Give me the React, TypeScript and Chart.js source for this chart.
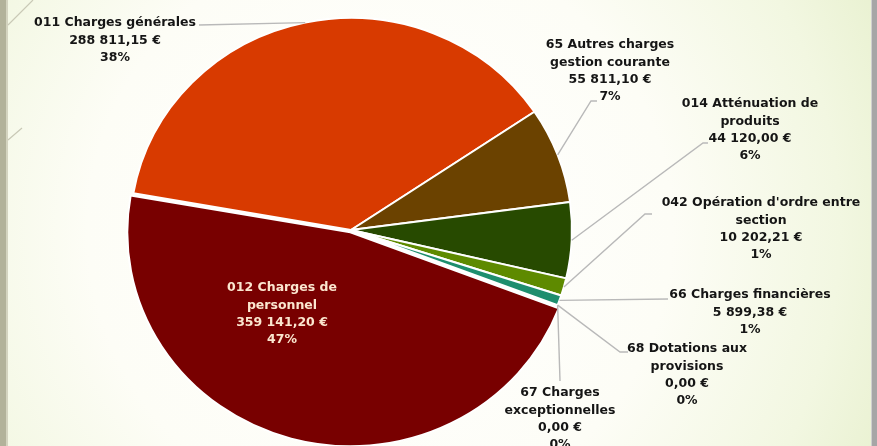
import React, { useEffect, useRef } from 'react';
import { Chart, registerables } from 'chart.js';

Chart.register(...registerables);

// ---- data ----
const categoryLines: string[][] = [
  ['011 Charges générales'],
  ['65 Autres charges', 'gestion courante'],
  ['014 Atténuation de', 'produits'],
  ["042 Opération d'ordre entre", 'section'],
  ['66 Charges financières'],
  ['68 Dotations aux', 'provisions'],
  ['67 Charges', 'exceptionnelles'],
  ['012 Charges de', 'personnel'],
];
const categories = categoryLines.map((l) => l.join(' '));
const amounts = [288811.15, 55811.1, 44120.0, 10202.21, 5899.38, 0, 0, 359141.2];
const sliceColors = ['#D83A00', '#6B4200', '#274A00', '#5E8A00', '#1E8E6E', '#8A8A8A', '#6A6A6A', '#780000'];
const explode = [0, 0, 0, 0, 0, 0, 0, 10];

// ---- layout (label placement, not data) ----
const CX = 351;
const CY = 230;
const RX = 221;
const SY = 212 / 221;
const LINE_H = 17.3;
const labelLayout: { x: number; y: number; path: number[][] | null; color: string }[] = [
  { x: 115, y: 23, path: [[199, 25]], color: '#151515' },
  { x: 610, y: 45, path: [[597, 101], [591, 101]], color: '#151515' },
  { x: 750, y: 104, path: [[708, 143], [703, 143]], color: '#151515' },
  { x: 761, y: 203, path: [[652, 214], [645, 214]], color: '#151515' },
  { x: 750, y: 295, path: [[668, 299]], color: '#151515' },
  { x: 687, y: 349, path: [[628, 352], [620, 352]], color: '#151515' },
  { x: 560, y: 393, path: [[560, 381]], color: '#151515' },
  { x: 282, y: 288, path: null, color: '#FBE6CF' },
];

function formatEuro(v: number): string {
  const [intPart, dec] = v.toFixed(2).split('.');
  const grouped = intPart.replace(/\B(?=(\d{3})+(?!\d))/g, ' ');
  return `${grouped},${dec} €`;
}

const total = amounts.reduce((a, b) => a + b, 0);
const percentLabels = amounts.map((v) => `${Math.round((v / total) * 100)}%`);
const amountLabels = amounts.map(formatEuro);

const backgroundPlugin = {
  id: 'slideBackground',
  beforeDraw(chart: any) {
    const ctx = chart.ctx as CanvasRenderingContext2D;
    const w = chart.width;
    const h = chart.height;
    ctx.save();
    const g = ctx.createRadialGradient(380, 230, 40, 380, 230, 600);
    g.addColorStop(0, '#ffffff');
    g.addColorStop(0.45, '#fdfdf6');
    g.addColorStop(0.75, '#f2f7e1');
    g.addColorStop(1, '#e4eec8');
    ctx.fillStyle = g;
    ctx.fillRect(0, 0, w, h);
    ctx.fillStyle = '#b2b29a';
    ctx.fillRect(0, 0, 6, h);
    ctx.fillStyle = '#d4d4c0';
    ctx.fillRect(6, 0, 2, h);
    ctx.fillStyle = '#a6a6a6';
    ctx.fillRect(872, 0, 5, h);
    ctx.fillStyle = '#cfcfcf';
    ctx.fillRect(871, 0, 1, h);
    ctx.strokeStyle = '#c9c9b6';
    ctx.lineWidth = 1.2;
    ctx.beginPath();
    ctx.moveTo(8, 25);
    ctx.lineTo(33, 0);
    ctx.moveTo(8, 140);
    ctx.lineTo(22, 128);
    ctx.stroke();
    ctx.restore();
  },
};

const pieScalePlugin = {
  id: 'pieScale',
  beforeDatasetsDraw(chart: any) {
    const ctx = chart.ctx as CanvasRenderingContext2D;
    const a = chart.getDatasetMeta(0).data[0] as any;
    ctx.save();
    ctx.translate(a.x, a.y);
    ctx.scale(1, SY);
    ctx.translate(-a.x, -a.y);
  },
  afterDatasetsDraw(chart: any) {
    const ctx = chart.ctx as CanvasRenderingContext2D;
    ctx.restore();
    const arcs = chart.getDatasetMeta(0).data as any[];
    ctx.save();
    // leader lines
    ctx.strokeStyle = '#b9b9b9';
    ctx.lineWidth = 1.4;
    arcs.forEach((arc, i) => {
      const lay = labelLayout[i];
      if (!lay.path) return;
      const mid = (arc.startAngle + arc.endAngle) / 2;
      const px = arc.x + arc.outerRadius * Math.cos(mid);
      const py = arc.y + arc.outerRadius * Math.sin(mid) * SY;
      ctx.beginPath();
      ctx.moveTo(lay.path[0][0], lay.path[0][1]);
      for (let k = 1; k < lay.path.length; k++) ctx.lineTo(lay.path[k][0], lay.path[k][1]);
      ctx.lineTo(px, py);
      ctx.stroke();
    });
    // labels
    ctx.font = 'bold 12.5px "DejaVu Sans", sans-serif';
    ctx.textAlign = 'center';
    ctx.textBaseline = 'middle';
    categoryLines.forEach((lines, i) => {
      const lay = labelLayout[i];
      const all = [...lines, amountLabels[i], percentLabels[i]];
      ctx.fillStyle = lay.color;
      all.forEach((t, k) => ctx.fillText(t, lay.x, lay.y + k * LINE_H));
    });
    ctx.restore();
  },
};

export default function App() {
  const ref = useRef<HTMLCanvasElement | null>(null);
  useEffect(() => {
    if (!ref.current) return;
    const chart = new Chart(ref.current, {
      type: 'pie',
      data: {
        labels: categories,
        datasets: [
          {
            data: amounts,
            backgroundColor: sliceColors,
            borderColor: '#ffffff',
            borderWidth: 2,
            offset: explode,
            radius: RX,
            clip: false,
          } as any,
        ],
      },
      options: {
        responsive: false,
        animation: false,
        events: [],
        rotation: -80,
        layout: { padding: { left: 0, right: 877 - 2 * CX, top: 2 * CY - 446, bottom: 0 } },
        plugins: { legend: { display: false }, tooltip: { enabled: false } },
      },
      plugins: [backgroundPlugin, pieScalePlugin],
    });
    return () => chart.destroy();
  }, []);
  return (
    <div style={{ position: 'absolute', left: 0, top: 0, width: 877, height: 446, overflow: 'hidden' }}>
      <canvas ref={ref} width={877} height={446} style={{ display: 'block', width: 877, height: 446 }} />
    </div>
  );
}
